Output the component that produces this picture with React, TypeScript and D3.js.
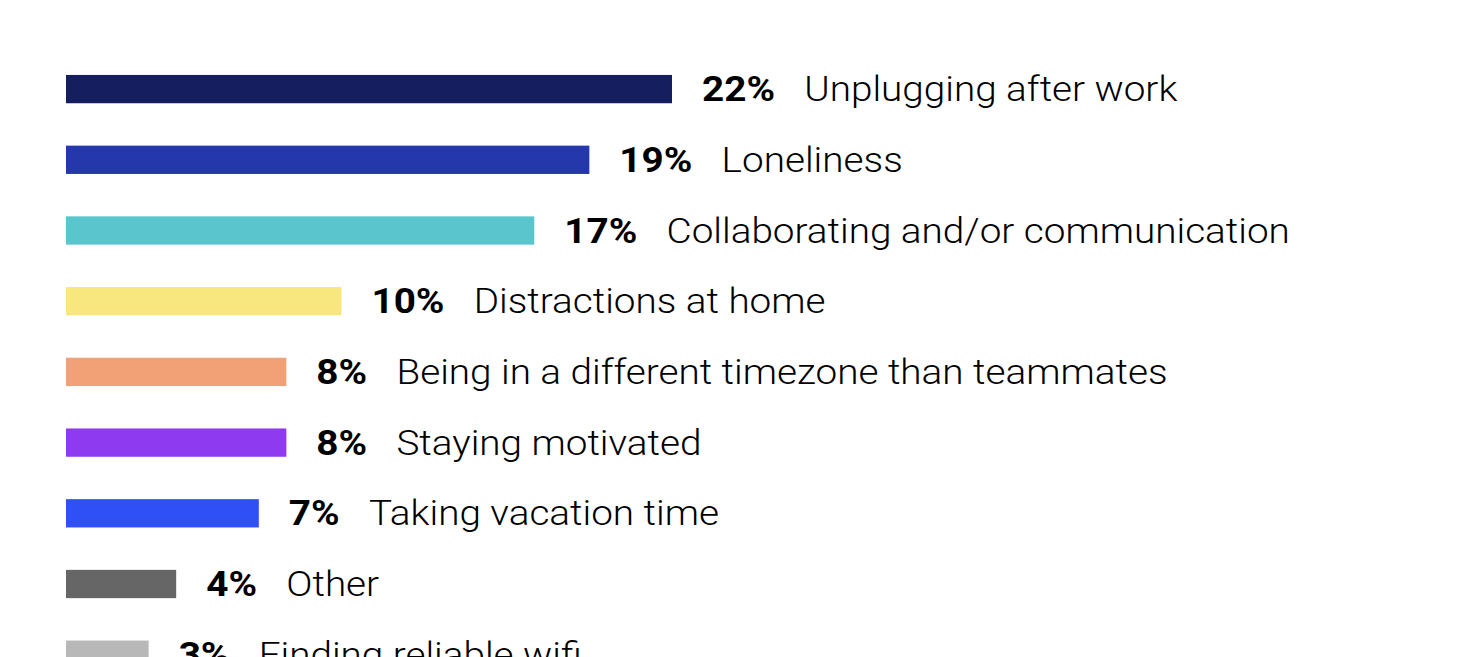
import React from "react";
import * as d3 from "d3";

const categories = [
  "Unplugging after work",
  "Loneliness",
  "Collaborating and/or communication",
  "Distractions at home",
  "Being in a different timezone than teammates",
  "Staying motivated",
  "Taking vacation time",
  "Other",
  "Finding reliable wifi",
];
const values = [22, 19, 17, 10, 8, 8, 7, 4, 3];
const colors = [
  "#151e5e",
  "#2438ab",
  "#5bc5cd",
  "#f8e67f",
  "#f2a177",
  "#8d3af0",
  "#2f50f4",
  "#666666",
  "#b8b8b8",
];

const W = 1460;
const H = 657;

export default function App() {
  const x = d3.scaleLinear().domain([0, 22]).range([66, 672]);
  const y = d3
    .scaleLinear()
    .domain([0, categories.length - 1])
    .range([89.1, 89.1 + 70.7 * (categories.length - 1)]);
  const bh = 28.3;
  const sx = 1.105;
  return (
    <svg
      width={W}
      height={H}
      style={{ position: "absolute", left: 0, top: 0, display: "block", background: "#fff" }}
    >
      {categories.map((c, i) => {
        const cy = y(i);
        return (
          <g key={c}>
            <rect x={x(0)} y={cy - bh / 2} width={x(values[i]) - x(0)} height={bh} fill={colors[i]} />
            <text
              transform={`translate(${x(values[i]) + 30},${cy + 12}) scale(${sx},1)`}
              fontFamily="Roboto, sans-serif"
              fontSize={35}
              fill="#000"
            >
              <tspan fontWeight={700}>{values[i]}%</tspan>
              <tspan dx={26.5} fontWeight={300}>
                {c}
              </tspan>
            </text>
          </g>
        );
      })}
    </svg>
  );
}
